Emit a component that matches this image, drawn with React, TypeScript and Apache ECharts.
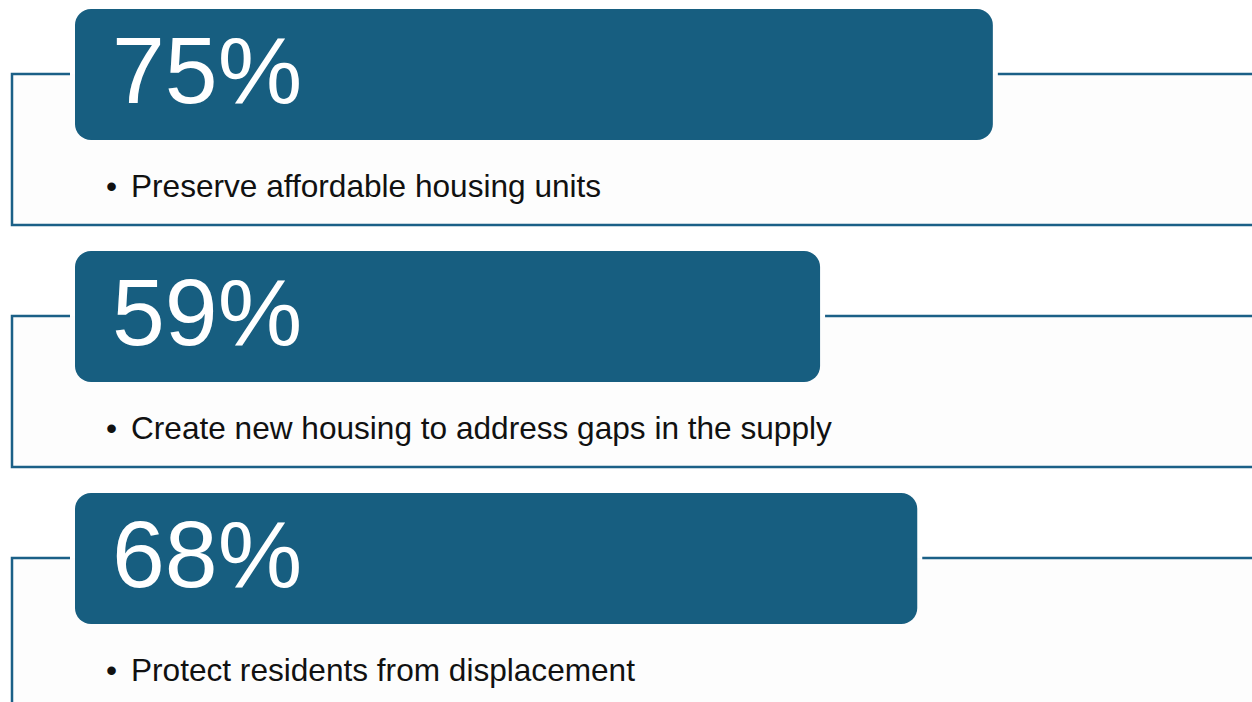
import React, { useEffect, useRef } from "react";
import * as echarts from "echarts";

const categories = ["Preserve", "Create", "Protect"];
const percentValues = [75, 59, 68];
const descriptions = [
  "Preserve affordable housing units",
  "Create new housing to address gaps in the supply",
  "Protect residents from displacement",
];

const X_MIN = -10;
const X_MAX = 99;
const ROW = 242;
const BLUE = "#175e80";
const LINE = "#1b6087";
const FONT = "'Liberation Sans', Arial, Helvetica, sans-serif";

export default function App() {
  const ref = useRef<HTMLDivElement>(null);
  useEffect(() => {
    if (!ref.current) return;
    const chart = echarts.init(ref.current, undefined, { renderer: "svg" });
    const option: any = {
      animation: false,
      backgroundColor: "#ffffff",
      grid: { left: 75, top: 0, right: 0, bottom: 0 },
      xAxis: { type: "value", min: X_MIN, max: X_MAX, show: false },
      yAxis: {
        type: "value",
        inverse: true,
        min: -0.5,
        max: -0.5 + 702 / ROW,
        show: false,
      },
      series: [
        {
          type: "custom",
          name: "share",
          clip: false,
          data: percentValues.map((v, i) => [v, i, categories[i]]),
          renderItem: (params: any, api: any) => {
            const v = api.value(0);
            const idx = api.value(1);
            const end = api.coord([v, idx]);
            const start = api.coord([X_MIN, idx]);
            const xe = end[0];
            const yc = end[1];
            const x0 = start[0];
            const rectTop = yc - 112;
            const rectH = 131;
            const topLine = yc - 47;
            const bottomLine = yc + 104;
            const boxLeft = x0 - 63;
            const boxRight = 1252;
            return {
              type: "group",
              children: [
                {
                  type: "rect",
                  shape: { x: boxLeft, y: topLine, width: boxRight - boxLeft, height: bottomLine - topLine },
                  style: { fill: "#fdfdfd" },
                },
                {
                  type: "polyline",
                  shape: {
                    points: [
                      [x0 - 5, topLine],
                      [boxLeft, topLine],
                      [boxLeft, bottomLine],
                      [boxRight, bottomLine],
                    ],
                  },
                  style: { stroke: LINE, lineWidth: 2.5, fill: null },
                },
                {
                  type: "line",
                  shape: { x1: xe + 5, y1: topLine, x2: boxRight, y2: topLine },
                  style: { stroke: LINE, lineWidth: 2.5 },
                },
                {
                  type: "rect",
                  shape: { x: x0, y: rectTop, width: xe - x0, height: rectH, r: 16 },
                  style: { fill: BLUE },
                },
                {
                  type: "text",
                  x: x0 + 37,
                  y: yc - 51,
                  style: {
                    text: `${v}%`,
                    fill: "#ffffff",
                    font: `95px ${FONT}`,
                    verticalAlign: "middle",
                    align: "left",
                  },
                },
                {
                  type: "text",
                  x: x0 + 31,
                  y: yc + 65,
                  style: {
                    text: "•",
                    fill: "#111111",
                    font: `31.6px ${FONT}`,
                    verticalAlign: "middle",
                    align: "left",
                  },
                },
                {
                  type: "text",
                  x: x0 + 56,
                  y: yc + 65,
                  style: {
                    text: descriptions[idx],
                    fill: "#111111",
                    font: `31.6px ${FONT}`,
                    verticalAlign: "middle",
                    align: "left",
                  },
                },
              ],
            };
          },
        },
      ],
    };
    chart.setOption(option);
    return () => chart.dispose();
  }, []);
  return (
    <div
      ref={ref}
      style={{ position: "absolute", left: 0, top: 0, width: 1252, height: 702 }}
    />
  );
}
